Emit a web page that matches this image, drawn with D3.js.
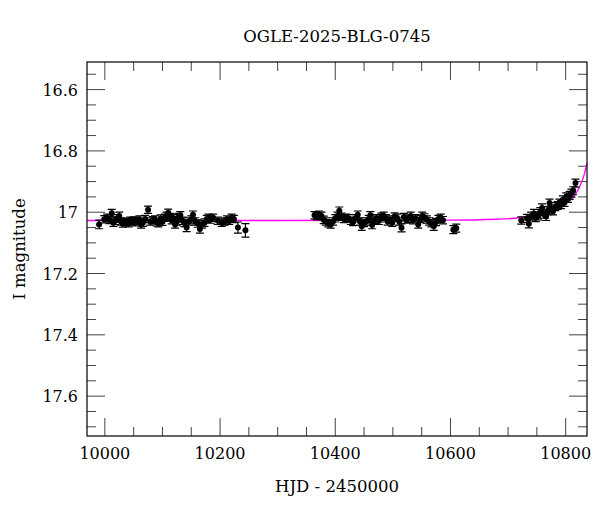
<!DOCTYPE html>
<html lang="en">
<head>
    <meta charset="UTF-8">
    <title>OGLE-2025-BLG-0745</title>
    <script src="https://d3js.org/d3.v7.min.js"></script>
    <style>
        body { margin: 0; background: #fff; }
        svg text { font-family: "DejaVu Serif", serif; fill: #000; }
    </style>
</head>
<body>
    <div id="chart"></div>
    <script>
        // photometry, [HJD-2450000, I mag, error]
        const season1 = [
            [9990, 17.040, 0.014], [9999, 17.023, 0.012], [10004, 17.018, 0.012], [10008, 17.025, 0.012],
            [10012, 17.003, 0.012], [10015, 17.034, 0.012], [10018, 17.028, 0.012], [10022, 17.020, 0.012],
            [10025, 17.012, 0.012], [10028, 17.030, 0.012], [10031, 17.037, 0.012], [10034, 17.033, 0.012],
            [10038, 17.031, 0.012], [10041, 17.036, 0.012], [10044, 17.028, 0.012], [10047, 17.030, 0.012],
            [10050, 17.027, 0.012], [10053, 17.033, 0.012], [10056, 17.029, 0.012], [10060, 17.024, 0.012],
            [10063, 17.040, 0.012], [10066, 17.034, 0.012], [10070, 17.022, 0.012], [10075, 16.992, 0.012],
            [10079, 17.030, 0.012], [10083, 17.026, 0.012], [10087, 17.024, 0.012], [10090, 17.033, 0.012],
            [10093, 17.036, 0.012], [10097, 17.021, 0.012], [10100, 17.031, 0.012], [10104, 17.018, 0.012],
            [10107, 17.012, 0.012], [10110, 17.002, 0.012], [10113, 17.016, 0.012], [10116, 17.026, 0.012],
            [10119, 17.019, 0.012], [10122, 17.040, 0.012], [10125, 17.030, 0.012], [10128, 17.016, 0.012],
            [10131, 17.010, 0.012], [10135, 17.028, 0.012], [10138, 17.035, 0.012], [10142, 17.050, 0.013],
            [10146, 17.030, 0.012], [10150, 17.024, 0.012], [10153, 17.008, 0.012], [10157, 17.030, 0.012],
            [10161, 17.037, 0.012], [10165, 17.055, 0.013], [10169, 17.040, 0.012], [10173, 17.034, 0.012],
            [10177, 17.022, 0.012], [10180, 17.018, 0.012], [10184, 17.024, 0.012], [10188, 17.018, 0.012],
            [10196, 17.028, 0.012], [10203, 17.034, 0.012], [10208, 17.030, 0.012], [10212, 17.024, 0.012],
            [10216, 17.028, 0.012], [10220, 17.018, 0.012], [10224, 17.022, 0.012], [10231, 17.050, 0.018],
            [10244, 17.059, 0.022]
        ];
        const season2 = [
            [10364, 17.010, 0.012], [10368, 17.013, 0.012], [10372, 17.008, 0.012], [10376, 17.012, 0.012],
            [10380, 17.025, 0.012], [10384, 17.030, 0.012], [10388, 17.036, 0.012], [10392, 17.040, 0.012],
            [10396, 17.030, 0.012], [10400, 17.020, 0.012], [10404, 17.012, 0.012], [10407, 16.995, 0.012],
            [10411, 17.015, 0.012], [10415, 17.022, 0.012], [10419, 17.018, 0.012], [10423, 17.020, 0.012],
            [10427, 17.028, 0.012], [10431, 17.032, 0.012], [10435, 17.020, 0.012], [10439, 17.008, 0.012],
            [10443, 17.030, 0.012], [10446, 17.046, 0.013], [10450, 17.035, 0.012], [10454, 17.030, 0.012],
            [10458, 17.022, 0.012], [10461, 17.010, 0.012], [10464, 17.042, 0.012], [10468, 17.025, 0.012],
            [10472, 17.020, 0.012], [10476, 17.028, 0.012], [10480, 17.015, 0.012], [10484, 17.012, 0.012],
            [10488, 17.020, 0.012], [10491, 17.030, 0.012], [10495, 17.024, 0.012], [10499, 17.034, 0.012],
            [10503, 17.014, 0.012], [10507, 17.018, 0.012], [10511, 17.030, 0.012], [10515, 17.051, 0.013],
            [10519, 17.016, 0.012], [10523, 17.024, 0.012], [10527, 17.021, 0.012], [10531, 17.012, 0.012],
            [10535, 17.026, 0.012], [10539, 17.020, 0.012], [10544, 17.040, 0.012], [10548, 17.022, 0.012],
            [10551, 17.012, 0.012], [10555, 17.017, 0.012], [10559, 17.024, 0.012], [10563, 17.030, 0.012],
            [10567, 17.036, 0.012], [10571, 17.046, 0.013], [10575, 17.032, 0.012], [10579, 17.022, 0.012],
            [10583, 17.018, 0.012], [10587, 17.026, 0.012], [10605, 17.057, 0.013], [10610, 17.052, 0.013]
        ];
        const season3 = [
            [10723, 17.027, 0.012], [10733, 17.020, 0.013], [10736, 17.038, 0.013], [10740, 17.013, 0.013],
            [10745, 17.004, 0.013], [10748, 17.018, 0.013], [10752, 17.012, 0.013], [10756, 16.998, 0.013],
            [10759, 16.986, 0.013], [10762, 17.006, 0.013], [10766, 17.014, 0.013], [10769, 16.995, 0.013],
            [10772, 16.970, 0.013], [10775, 16.990, 0.013], [10778, 16.996, 0.013], [10782, 16.982, 0.013],
            [10786, 16.978, 0.013], [10789, 16.970, 0.013], [10792, 16.975, 0.013], [10795, 16.960, 0.013],
            [10798, 16.968, 0.013], [10801, 16.950, 0.013], [10804, 16.955, 0.013], [10807, 16.945, 0.013],
            [10810, 16.938, 0.013], [10813, 16.930, 0.013], [10817, 16.905, 0.013]
        ];

        // model curve (magenta)
        const modelHjd = [9969, 10300, 10600, 10680, 10720, 10745, 10770, 10790, 10805, 10815, 10825, 10832, 10837];
        const modelMag = [17.027, 17.027, 17.026, 17.023, 17.018, 17.010, 16.998, 16.983, 16.965, 16.947, 16.914, 16.878, 16.840];

        const xTicks = [10000, 10200, 10400, 10600, 10800];
        const yTicks = [16.6, 16.8, 17, 17.2, 17.4, 17.6];

        const width = 600, height = 512;
        const margin = { top: 62, right: 13, bottom: 76, left: 87 };

        const svg = d3.select('#chart').append('svg')
            .attr('width', width)
            .attr('height', height);

        const x = d3.scaleLinear().domain([9969, 10837]).range([margin.left, width - margin.right]);
        const y = d3.scaleLinear().domain([16.51, 17.73]).range([margin.top, height - margin.bottom]);

        const x0 = margin.left, x1 = width - margin.right;
        const y0 = margin.top, y1 = height - margin.bottom;

        // ticks on all four sides
        const tickColor = '#444';
        const xMinor = d3.range(10000, 10837, 50).filter(v => v % 200 !== 0);
        const yMinor = d3.range(16.55, 17.73, 0.05).filter(v => Math.abs(Math.round(v * 5) - v * 5) > 0.01);

        const ticks = svg.append('g').attr('stroke', tickColor).attr('stroke-width', 1);
        xTicks.forEach(v => {
            ticks.append('line').attr('x1', x(v)).attr('x2', x(v)).attr('y1', y1).attr('y2', y1 - 18);
            ticks.append('line').attr('x1', x(v)).attr('x2', x(v)).attr('y1', y0).attr('y2', y0 + 18);
        });
        xMinor.forEach(v => {
            ticks.append('line').attr('x1', x(v)).attr('x2', x(v)).attr('y1', y1).attr('y2', y1 - 9);
            ticks.append('line').attr('x1', x(v)).attr('x2', x(v)).attr('y1', y0).attr('y2', y0 + 9);
        });
        yTicks.forEach(v => {
            ticks.append('line').attr('y1', y(v)).attr('y2', y(v)).attr('x1', x0).attr('x2', x0 + 18);
            ticks.append('line').attr('y1', y(v)).attr('y2', y(v)).attr('x1', x1).attr('x2', x1 - 18);
        });
        yMinor.forEach(v => {
            ticks.append('line').attr('y1', y(v)).attr('y2', y(v)).attr('x1', x0).attr('x2', x0 + 9);
            ticks.append('line').attr('y1', y(v)).attr('y2', y(v)).attr('x1', x1).attr('x2', x1 - 9);
        });

        // model
        const line = d3.line()
            .x(d => x(d[0]))
            .y(d => y(d[1]))
            .curve(d3.curveMonotoneX);

        svg.append('path')
            .datum(d3.zip(modelHjd, modelMag))
            .attr('fill', 'none')
            .attr('stroke', '#ff00ff')
            .attr('stroke-width', 1.3)
            .attr('d', line);

        // data points with error bars
        const points = season1.concat(season2, season3);
        const pts = svg.append('g');
        const cap = 4;

        pts.selectAll('.err')
            .data(points)
            .enter().append('path')
            .attr('class', 'err')
            .attr('fill', 'none')
            .attr('stroke', '#000')
            .attr('stroke-width', 1.2)
            .attr('d', d => {
                const cx = x(d[0]), ya = y(d[1] - d[2]), yb = y(d[1] + d[2]);
                return `M${cx},${ya}V${yb}M${cx - cap},${ya}H${cx + cap}M${cx - cap},${yb}H${cx + cap}`;
            });

        pts.selectAll('circle')
            .data(points)
            .enter().append('circle')
            .attr('cx', d => x(d[0]))
            .attr('cy', d => y(d[1]))
            .attr('r', 3)
            .attr('fill', '#000');

        // frame
        svg.append('rect')
            .attr('x', x0).attr('y', y0)
            .attr('width', x1 - x0).attr('height', y1 - y0)
            .attr('fill', 'none')
            .attr('stroke', '#000')
            .attr('stroke-width', 1.2);

        // tick labels
        svg.selectAll('.xlab')
            .data(xTicks)
            .enter().append('text')
            .attr('x', d => x(d))
            .attr('y', 459)
            .attr('text-anchor', 'middle')
            .style('font-size', '16px')
            .text(d => d);

        svg.selectAll('.ylab')
            .data(yTicks)
            .enter().append('text')
            .attr('x', 78)
            .attr('y', d => y(d) + 6)
            .attr('text-anchor', 'end')
            .style('font-size', '16px')
            .text(d => d);

        // titles
        svg.append('text')
            .attr('x', (x0 + x1) / 2)
            .attr('y', 42)
            .attr('text-anchor', 'middle')
            .style('font-size', '16.5px')
            .text('OGLE-2025-BLG-0745');

        svg.append('text')
            .attr('x', (x0 + x1) / 2)
            .attr('y', 492)
            .attr('text-anchor', 'middle')
            .style('font-size', '16.5px')
            .text('HJD - 2450000');

        svg.append('text')
            .attr('transform', `translate(25,${(y0 + y1) / 2}) rotate(-90)`)
            .attr('text-anchor', 'middle')
            .style('font-size', '16.5px')
            .text('I magnitude');
    </script>
</body>
</html>
